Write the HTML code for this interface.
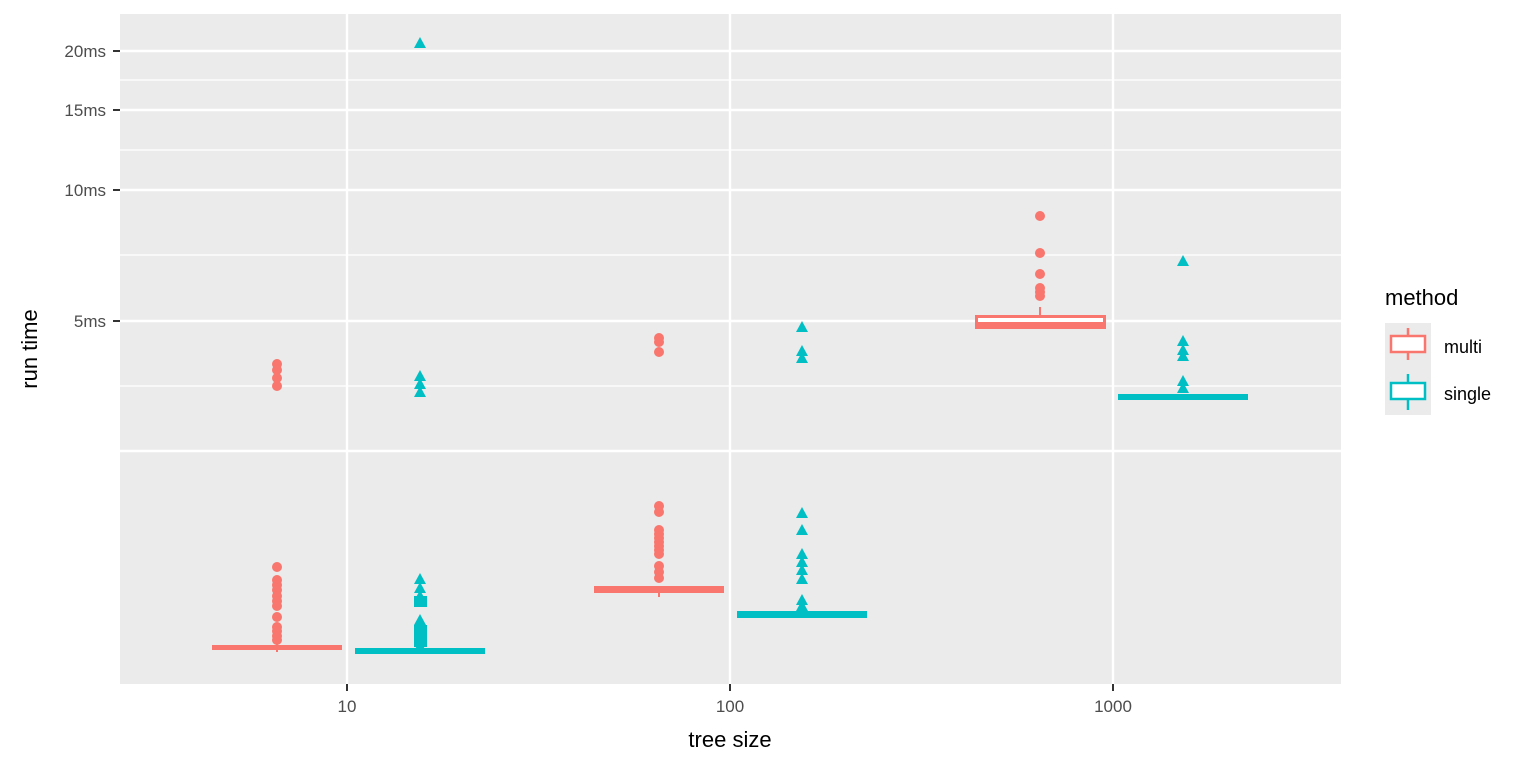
<!DOCTYPE html>
<html><head><style>body{margin:0;background:#fff}svg{display:block}text{font-family:"Liberation Sans",sans-serif}</style></head><body>
<svg width="1536" height="768" viewBox="0 0 1536 768">
<rect x="120" y="14" width="1221" height="670" fill="#ebebeb"/>
<g stroke="#fff" stroke-width="1.2">
<line x1="120" x2="1341" y1="80" y2="80"/><line x1="120" x2="1341" y1="150" y2="150"/><line x1="120" x2="1341" y1="255" y2="255"/><line x1="120" x2="1341" y1="386" y2="386"/>
</g>
<g stroke="#fff" stroke-width="2.4">
<line x1="120" x2="1341" y1="51" y2="51"/><line x1="120" x2="1341" y1="110" y2="110"/><line x1="120" x2="1341" y1="190" y2="190"/><line x1="120" x2="1341" y1="321" y2="321"/><line x1="120" x2="1341" y1="451" y2="451"/>
<line x1="347" x2="347" y1="14" y2="684"/><line x1="730" x2="730" y1="14" y2="684"/><line x1="1113" x2="1113" y1="14" y2="684"/>
</g>
<g fill="#f8766d">
<rect x="212" y="645" width="130" height="5"/><rect x="594" y="586" width="130" height="7"/>
<rect x="658" y="586" width="2" height="11"/><rect x="276" y="640" width="2" height="12"/>
<circle cx="277" cy="567" r="5"/><circle cx="277" cy="580" r="5"/><circle cx="277" cy="585" r="5"/><circle cx="277" cy="590" r="5"/><circle cx="277" cy="596" r="5"/><circle cx="277" cy="601" r="5"/><circle cx="277" cy="606" r="5"/><circle cx="277" cy="617" r="5"/><circle cx="277" cy="627" r="5"/><circle cx="277" cy="631" r="5"/><circle cx="277" cy="636" r="5"/><circle cx="277" cy="640" r="5"/>
<circle cx="277" cy="364" r="5"/><circle cx="277" cy="370" r="5"/><circle cx="277" cy="378" r="5"/><circle cx="277" cy="386" r="5"/>
<circle cx="659" cy="338" r="5"/><circle cx="659" cy="342" r="5"/><circle cx="659" cy="352" r="5"/>
<circle cx="659" cy="506" r="5"/><circle cx="659" cy="512" r="5"/><circle cx="659" cy="530" r="5"/><circle cx="659" cy="534" r="5"/><circle cx="659" cy="538" r="5"/><circle cx="659" cy="542" r="5"/><circle cx="659" cy="546" r="5"/><circle cx="659" cy="550" r="5"/><circle cx="659" cy="554" r="5"/><circle cx="659" cy="566" r="5"/><circle cx="659" cy="572" r="5"/><circle cx="659" cy="578" r="5"/>
<circle cx="1040" cy="216" r="5"/><circle cx="1040" cy="253" r="5"/><circle cx="1040" cy="274" r="5"/><circle cx="1040" cy="288" r="5"/><circle cx="1040" cy="292" r="5"/><circle cx="1040" cy="296" r="5"/>
</g>
<rect x="976.5" y="316.5" width="128" height="11" fill="#fff" stroke="#f8766d" stroke-width="3"/>
<rect x="976" y="322" width="129" height="6" fill="#f8766d"/>
<line x1="1040" x2="1040" y1="307" y2="316" stroke="#f8766d" stroke-width="2"/>
<g fill="#00bfc4">
<rect x="355" y="648" width="130" height="6"/><rect x="737" y="611" width="130" height="7"/><rect x="1118" y="394" width="130" height="6"/>
</g>
<g fill="#00bfc4">
<path d="M420,37l6,11h-12z"/>
<path d="M420,370l6,11h-12z"/><path d="M420,378l6,11h-12z"/><path d="M420,386l6,11h-12z"/>
<path d="M420,573l6,11h-12z"/><path d="M420,582l6,11h-12z"/><path d="M420,590l6,11h-12z"/><path d="M420,596l6,11h-12z"/>
<rect x="414" y="596" width="13" height="11"/>
<path d="M420,614l6,11h-12z"/><path d="M420,623l6,11h-12z"/><path d="M420,632l6,11h-12z"/><path d="M420,640l6,11h-12z"/>
<rect x="414" y="625" width="13" height="22"/>
<path d="M802,321l6,11h-12z"/><path d="M802,345l6,11h-12z"/><path d="M802,352l6,11h-12z"/>
<path d="M802,507l6,11h-12z"/><path d="M802,524l6,11h-12z"/><path d="M802,548l6,11h-12z"/><path d="M802,556l6,11h-12z"/><path d="M802,564l6,11h-12z"/><path d="M802,573l6,11h-12z"/><path d="M802,594l6,11h-12z"/><path d="M802,600l6,11h-12z"/>
<path d="M1183,255l6,11h-12z"/><path d="M1183,335l6,11h-12z"/><path d="M1183,344l6,11h-12z"/><path d="M1183,350l6,11h-12z"/><path d="M1183,375l6,11h-12z"/><path d="M1183,382l6,11h-12z"/>
</g>
<g stroke="#333" stroke-width="2">
<line x1="113" x2="120" y1="51" y2="51"/><line x1="113" x2="120" y1="110" y2="110"/><line x1="113" x2="120" y1="190" y2="190"/><line x1="113" x2="120" y1="321" y2="321"/>
<line x1="347" x2="347" y1="684" y2="691"/><line x1="730" x2="730" y1="684" y2="691"/><line x1="1113" x2="1113" y1="684" y2="691"/>
</g>
<g fill="#4d4d4d" font-size="17" text-anchor="end">
<text x="106" y="57">20ms</text><text x="106" y="116">15ms</text><text x="106" y="196">10ms</text><text x="106" y="327">5ms</text>
</g>
<g fill="#4d4d4d" font-size="17" text-anchor="middle">
<text x="347" y="712">10</text><text x="730" y="712">100</text><text x="1113" y="712">1000</text>
</g>
<text x="730" y="747" font-size="22" text-anchor="middle">tree size</text>
<text transform="translate(37,349) rotate(-90)" font-size="22" text-anchor="middle">run time</text>
<text x="1385" y="305" font-size="22">method</text>
<rect x="1385" y="323" width="46" height="92" fill="#ebebeb"/>
<g stroke="#f8766d" stroke-width="2.5" fill="#fff"><line x1="1408" x2="1408" y1="328" y2="360"/><rect x="1391" y="336" width="34" height="16"/></g>
<g stroke="#00bfc4" stroke-width="2.5" fill="#fff"><line x1="1408" x2="1408" y1="374" y2="410"/><rect x="1391" y="383" width="34" height="16"/></g>
<text x="1444" y="353" font-size="18">multi</text><text x="1444" y="400" font-size="18">single</text>
</svg>
</body></html>
